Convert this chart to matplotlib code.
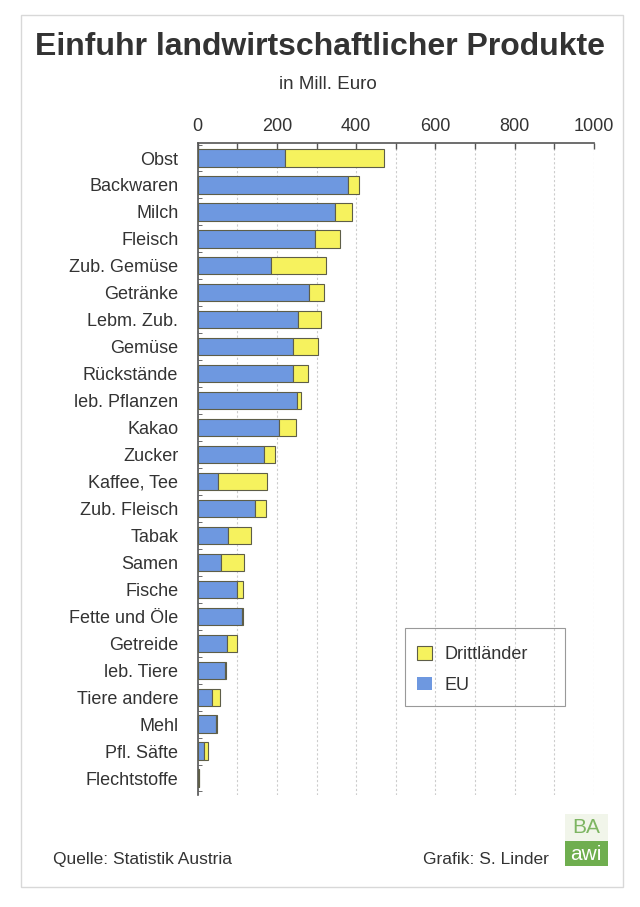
"""Einfuhr landwirtschaftlicher Produkte - stacked horizontal bars."""

import matplotlib

matplotlib.use("Agg")
import matplotlib.pyplot as plt
import numpy as np
from matplotlib.patches import Rectangle
from matplotlib.ticker import FixedLocator, FuncFormatter, MultipleLocator

plt.rcParams["font.family"] = ["Liberation Sans", "DejaVu Sans"]

categories = [
    "Obst", "Backwaren", "Milch", "Fleisch", "Zub. Gemüse", "Getränke",
    "Lebm. Zub.", "Gemüse", "Rückstände", "leb. Pflanzen", "Kakao", "Zucker",
    "Kaffee, Tee", "Zub. Fleisch", "Tabak", "Samen", "Fische", "Fette und Öle",
    "Getreide", "leb. Tiere", "Tiere andere", "Mehl", "Pfl. Säfte", "Flechtstoffe",
]
eu = [221, 378, 346, 297, 185, 280, 254, 241, 241, 251, 205, 166,
      52, 144, 77, 59, 99, 112, 74, 70, 36, 47, 16, 2]
drittlaender = [248, 29, 44, 62, 139, 39, 56, 62, 37, 9, 44, 29,
                123, 29, 58, 57, 15, 2, 26, 1, 19, 2, 9, 1]

BLUE = "#6e98e0"
YELLOW = "#f6f25e"
EDGE = "#5e5e48"
TEXT = "#333333"

fig = plt.figure(figsize=(6.4, 9.07), dpi=100)
fig.patch.set_facecolor("white")

# faint outer frame
fig.add_artist(Rectangle((0.033, 0.022), 0.94, 0.962, transform=fig.transFigure,
                         fill=False, edgecolor="#d8d8d8", lw=1.0))

ax = fig.add_axes([0.309, 0.1235, 0.619, 0.7188])
y = np.arange(len(categories))
ax.barh(y, eu, height=0.64, color=BLUE, edgecolor=EDGE, linewidth=0.8, label="EU", zorder=3)
ax.barh(y, drittlaender, left=eu, height=0.64, color=YELLOW, edgecolor=EDGE,
        linewidth=0.8, label="Drittländer", zorder=3)

ax.set_xlim(0, 1000)
ax.set_ylim(23.63, -0.556)

ax.xaxis.tick_top()
ax.xaxis.set_major_locator(MultipleLocator(100))
ax.xaxis.set_major_formatter(FuncFormatter(lambda v, p: f"{int(v)}" if int(v) % 200 == 0 else ""))
ax.tick_params(axis="x", direction="in", length=4, width=1.0, color="#555555",
               labelsize=13, labelcolor=TEXT, pad=6)
ax.grid(axis="x", color="#cccccc", linestyle=(0, (2, 2)), linewidth=0.8, zorder=0)

ax.set_yticks(y)
ax.set_yticklabels(categories)
ax.yaxis.set_minor_locator(FixedLocator(np.arange(len(categories) + 1) - 0.5))
ax.tick_params(axis="y", which="major", length=0, labelsize=13, labelcolor=TEXT, pad=14)
ax.tick_params(axis="y", which="minor", direction="in", length=3, color="#555555")

for side in ("right", "bottom"):
    ax.spines[side].set_visible(False)
for side in ("top", "left"):
    ax.spines[side].set_color("#555555")
    ax.spines[side].set_linewidth(1.2)

handles, labels = ax.get_legend_handles_labels()
leg = ax.legend(handles[::-1], labels[::-1], loc="upper left",
                bbox_to_anchor=(0.652, 0.288), bbox_transform=fig.transFigure,
                fontsize=13, frameon=False, borderpad=0,
                labelspacing=0.75, handlelength=0.8, handleheight=0.8,
                handletextpad=0.7, borderaxespad=0)
for t in leg.get_texts():
    t.set_color(TEXT)
leg.legend_handles[1].set_edgecolor("none")
fig.add_artist(Rectangle((0.633, 0.2216), 0.25, 0.086, transform=fig.transFigure,
                         fill=False, edgecolor="#999999", lw=0.8))

fig.text(0.5, 0.948, "Einfuhr landwirtschaftlicher Produkte", ha="center", va="center",
         fontsize=23, fontweight="bold", color=TEXT)
fig.text(0.513, 0.907, "in Mill. Euro", ha="center", va="center", fontsize=13.5, color=TEXT)

fig.text(0.083, 0.052, "Quelle: Statistik Austria", ha="left", va="center", fontsize=12.5, color=TEXT)
fig.text(0.857, 0.052, "Grafik: S. Linder", ha="right", va="center", fontsize=12.5, color=TEXT)

# BA awi logo
fig.add_artist(Rectangle((0.883, 0.073), 0.067, 0.029, transform=fig.transFigure,
                         facecolor="#f1f5ea", edgecolor="none"))
fig.add_artist(Rectangle((0.883, 0.045), 0.067, 0.028, transform=fig.transFigure,
                         facecolor="#6fae4f", edgecolor="none"))
fig.text(0.916, 0.088, "BA", ha="center", va="center", fontsize=15, color="#7db562")
fig.text(0.916, 0.058, "awi", ha="center", va="center", fontsize=15, color="white")

fig.savefig("out.png", dpi=100)
